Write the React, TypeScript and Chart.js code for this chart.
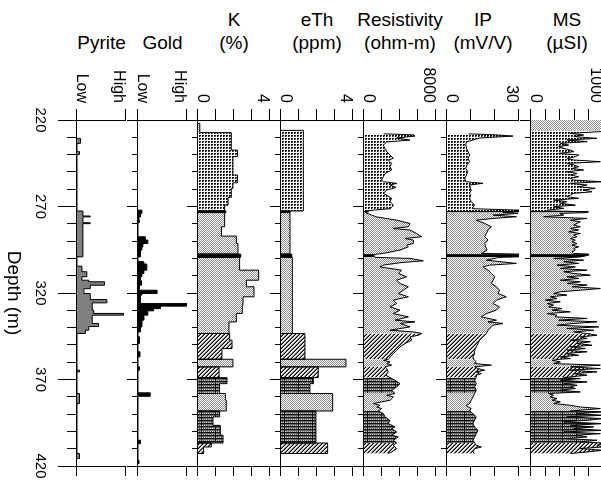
import React, { useEffect, useRef } from 'react';
import { Chart, registerables } from 'chart.js';

Chart.register(...registerables);

const FONT = '"Liberation Sans", Arial, Helvetica, sans-serif';

// ---------------- data ----------------
const depthMin = 220;
const depthMax = 420;
const depthStep = 10;
const depthLabelEvery = 50;
const depthTitle = 'Depth (m)';

// lithology zones (top depth of each zone and its fill kind)
const zoneTops = [220, 226, 272.6, 273.5, 297.5, 299.4, 343.4, 358.3, 362.7, 368.9, 378.1, 388.2, 406.7];
const zoneKinds = ['cross', 'dots', 'black', 'cross', 'black', 'cross', 'diag', 'cross', 'diag', 'grid', 'cross', 'grid', 'diag'];

const pyriteTicks = ['Low', 'High'];
const goldTicks = ['Low', 'High'];
const kTicks = ['0', '4'];
const ethTicks = ['0', '4'];
const resTicks = ['0', '8000'];
const ipTicks = ['0', '30'];
const msTicks = ['0', '1000'];

const pyriteDepth = [230.6, 230.6, 233.5, 238.3, 239.9, 272.6, 275.5, 276.0, 279.4, 279.9, 299.1, 304.5, 307.7, 310.6, 312.6, 313.5, 315.5, 317.5, 318.4, 320.3, 323.8, 325.7, 329.9, 331.8, 332.8, 337.6, 339.4, 341.5, 343.4, 364.6, 365.6, 378.1, 383.9, 412.8, 415.7];
const pyriteValue = [0, 0.07, 0, 0.05, 0, 0.12, 0.27, 0.12, 0.27, 0.12, 0, 0.1, 0.2, 0.1, 0.24, 0.56, 0.27, 0.14, 0.14, 0.27, 0.61, 0.31, 0.34, 0.95, 0.31, 0.44, 0.24, 0.17, 0, 0.05, 0, 0.05, 0, 0.05, 0];

const goldDepth = [272.1, 272.1, 274.0, 276.0, 278.1, 279.2, 287.5, 289.4, 291.4, 293.3, 295.2, 299.1, 301.9, 303.3, 306.8, 308.7, 310.6, 312.9, 315.5, 318.4, 320.3, 321.2, 326.1, 327.6, 329.0, 330.3, 332.8, 335.7, 339.6, 342.5, 345.3, 349.2, 354.0, 356.9, 362.7, 364.6, 377.7, 379.7, 405.1, 407.1, 416.7, 418.6];
const goldValue = [0, 0.08, 0.05, 0.02, 0.03, 0, 0.15, 0.2, 0.1, 0.08, 0.05, 0, 0.12, 0.18, 0.12, 0.08, 0.05, 0.07, 0.03, 0.39, 0.08, 0.05, 1.0, 0.46, 0.32, 0.2, 0.12, 0.08, 0.05, 0, 0.03, 0, 0.04, 0, 0.03, 0, 0.25, 0, 0.05, 0, 0.02, 0];

const kDepth = [222, 222, 227.3, 237.4, 241.2, 251.8, 256.3, 259.5, 264.7, 269.2, 272.6, 272.6, 273.5, 273.5, 281.7, 287.1, 291.3, 297.5, 297.5, 299.4, 299.4, 306.8, 312.6, 316.4, 322.2, 327.0, 331.8, 336.7, 343.4, 343.4, 347.3, 352.1, 358.3, 358.3, 362.7, 362.7, 368.9, 368.9, 372.4, 378.1, 378.1, 382.0, 388.2, 388.2, 391.6, 396.5, 402.2, 406.7, 406.7, 409.0, 412.8];
const kValue = [0, 0.1, 1.85, 2.19, 1.94, 2.19, 1.94, 1.85, 1.67, 1.48, 0, 1.55, 0, 1.48, 1.3, 2.13, 2.22, 0, 2.37, 0, 2.31, 3.37, 2.69, 3.11, 2.5, 2.46, 2.13, 1.72, 0, 1.76, 1.89, 1.33, 0, 1.94, 0, 1.17, 0, 1.61, 1.2, 0, 1.52, 1.57, 0, 1.2, 0.83, 1.24, 1.39, 0, 0.74, 0.31, 0];

const ethDepth = [226, 226, 272.6, 272.6, 273.5, 273.5, 297.5, 297.5, 299.4, 299.4, 343.4, 343.4, 358.3, 358.3, 362.7, 362.7, 368.9, 368.9, 372.4, 378.1, 378.1, 388.2, 388.2, 406.7, 406.7, 412.8];
const ethValue = [0, 1.24, 0, 0.5, 0, 0.5, 0, 0.6, 0, 0.63, 0, 1.33, 0, 3.61, 0, 2.07, 0, 1.8, 1.61, 0, 2.87, 0, 1.94, 0, 2.59, 0];

const resDepth = [
  228.0, 228.6, 229.3, 230.4, 231.6, 232.7, 234.5, 236.4, 238.3, 240.2,
  242.2, 243.1, 245.1, 247.0, 248.9, 250.9, 252.8, 254.7, 255.7, 256.6,
  257.6, 259.0, 260.5, 262.4, 263.4, 265.3, 267.2, 269.2, 270.5, 271.3,
  272.0, 272.6, 273.0, 273.5, 275.0, 276.0, 277.9, 279.8, 281.7, 282.7,
  283.6, 285.6, 287.5, 288.5, 289.4, 291.4, 292.3, 293.3, 295.2, 297.1,
  297.5, 298.1, 299.4, 300.0, 301.4, 302.5, 303.9, 304.9, 306.8, 308.7,
  310.6, 312.6, 314.5, 316.4, 318.4, 320.3, 322.2, 324.1, 326.1, 328.0,
  329.9, 331.9, 333.8, 335.7, 336.7, 337.6, 339.6, 341.5, 342.5, 343.4,
  344.4, 345.4, 347.3, 349.2, 351.1, 353.1, 355.0, 356.9, 358.3, 358.9,
  359.8, 360.8, 361.7, 362.7, 363.7, 365.6, 367.5, 368.9, 370.4, 372.4,
  374.3, 376.2, 378.1, 379.1, 380.1, 382.0, 383.9, 384.9, 385.9, 386.8,
  388.2, 389.7, 391.6, 393.6, 395.5, 397.4, 398.4, 400.3, 402.2, 403.2,
  405.1, 406.7, 408.0, 410.0, 411.9, 412.8];
const resValue = [
  2200, 5500, 5670, 3630, 5100, 2520, 2150, 2330, 2520, 2890,
  3260, 2700, 3070, 2890, 3070, 2330, 2150, 1960, 2150, 3630,
  2890, 3560, 2520, 2150, 2520, 3070, 2890, 3260, 3070, 2900,
  1200, 300, 500, 150, 850, 1400, 3630, 5110, 4930, 3260,
  5110, 5850, 6410, 4560, 5480, 5480, 4740, 4930, 4000, 2150,
  1500, 1040, 1200, 5110, 6590, 4000, 2150, 1780, 4190, 3810,
  4740, 3630, 4000, 4930, 4370, 3810, 4930, 3260, 3630, 2890,
  4000, 3260, 4930, 3440, 5670, 4000, 5110, 2890, 5480, 6410,
  6040, 5110, 5300, 4560, 4000, 3630, 3260, 2890, 2700, 2150,
  2890, 2520, 3070, 2330, 2520, 2700, 2440, 2890, 3440, 4000,
  3630, 3070, 3440, 2520, 3260, 2890, 1040, 1780, 1410, 1960,
  1590, 2150, 2330, 2890, 2700, 3440, 3070, 3630, 3070, 3810,
  3260, 3630, 3260, 3630, 3070, 2700];

const ipDepth = [
  228.0, 228.6, 229.3, 230.4, 231.0, 232.7, 234.5, 236.4, 238.3, 240.2,
  242.2, 244.1, 246.0, 248.0, 249.9, 251.8, 253.7, 255.7, 256.6, 257.6,
  259.0, 260.5, 262.4, 263.4, 265.3, 267.2, 269.2, 270.5, 271.3, 272.1,
  272.6, 273.0, 273.5, 274.0, 275.0, 275.9, 276.9, 277.9, 279.8, 281.7,
  283.6, 285.6, 287.5, 289.4, 291.4, 293.3, 295.2, 297.1, 297.5, 298.1,
  299.1, 299.4, 301.0, 302.9, 303.9, 304.9, 306.8, 308.7, 310.6, 312.6,
  314.5, 316.4, 318.4, 320.3, 322.2, 324.1, 326.1, 328.0, 329.9, 331.9,
  333.8, 335.7, 336.7, 337.6, 338.6, 339.6, 341.5, 343.4, 345.4, 347.3,
  349.2, 351.1, 353.1, 355.0, 356.9, 358.3, 358.9, 359.8, 360.8, 361.7,
  362.7, 363.7, 364.6, 365.6, 366.6, 367.5, 368.9, 370.4, 372.4, 374.3,
  376.2, 378.1, 380.1, 382.0, 383.9, 384.9, 385.9, 386.8, 388.2, 389.7,
  391.6, 393.6, 395.5, 397.4, 399.4, 401.3, 403.2, 405.1, 406.7, 408.0,
  409.0, 410.0, 411.9, 412.8];
const ipValue = [
  9.0, 20.6, 27.5, 13.6, 12.2, 8.1, 7.8, 8.1, 8.8, 9.4,
  8.8, 9.4, 8.3, 7.8, 8.6, 8.1, 7.4, 7.8, 15.0, 9.4,
  9.7, 10.1, 9.4, 9.9, 9.4, 10.1, 11.5, 10.8, 11.0, 30.0,
  28.0, 30.0, 23.3, 29.6, 19.2, 28.9, 19.2, 12.2, 15.7, 18.5,
  17.1, 16.4, 15.7, 17.1, 15.7, 16.1, 16.7, 14.3, 30.0, 30.0,
  30.0, 21.9, 16.4, 28.9, 17.8, 15.0, 17.1, 18.5, 19.9, 19.2,
  18.5, 20.6, 21.9, 21.3, 24.7, 20.6, 19.2, 21.9, 20.6, 16.4,
  14.3, 20.6, 17.1, 23.3, 19.2, 18.5, 17.1, 16.4, 15.0, 13.6,
  12.9, 12.2, 11.5, 11.5, 10.8, 11.2, 11.5, 12.2, 11.5, 18.5,
  11.5, 12.9, 15.7, 12.2, 14.3, 12.2, 12.2, 11.5, 12.2, 11.5,
  12.2, 11.5, 10.8, 10.1, 9.4, 8.1, 8.8, 10.1, 9.4, 10.8,
  12.2, 11.5, 10.8, 11.5, 12.9, 12.2, 11.5, 10.8, 11.5, 12.2,
  14.3, 11.5, 10.8, 11.5];

const msDepth = [
  220.0, 225.5, 226.0, 226.7, 227.7, 228.7, 229.6, 230.6, 231.6, 232.5,
  233.5, 234.5, 235.4, 236.4, 237.4, 238.3, 239.3, 240.2, 241.2, 242.2,
  243.1, 244.1, 245.1, 246.0, 247.0, 248.0, 248.9, 249.9, 250.9, 251.8,
  252.8, 253.7, 254.7, 255.7, 256.6, 257.6, 258.6, 259.5, 260.5, 261.5,
  262.4, 263.4, 264.3, 265.3, 266.3, 267.2, 268.2, 269.2, 270.1, 271.1,
  272.1, 272.6, 273.0, 273.5, 274.0, 275.0, 275.9, 276.9, 277.9, 278.8,
  279.8, 280.7, 281.7, 282.7, 283.6, 284.6, 285.6, 286.5, 287.5, 288.5,
  289.4, 290.4, 291.4, 292.3, 293.3, 294.2, 295.2, 296.2, 297.1, 297.5,
  298.1, 299.1, 299.4, 300.0, 301.0, 301.9, 302.9, 303.9, 304.9, 305.8,
  306.8, 307.7, 308.7, 309.7, 310.6, 311.6, 312.6, 313.5, 314.5, 315.4,
  316.4, 317.4, 318.4, 319.3, 320.3, 321.2, 322.2, 323.2, 324.1, 325.1,
  326.1, 327.0, 328.0, 329.0, 329.9, 330.9, 331.9, 332.8, 333.8, 334.7,
  335.7, 336.7, 337.6, 338.6, 339.6, 340.5, 341.5, 342.5, 343.4, 344.4,
  345.4, 346.3, 347.3, 348.2, 349.2, 350.2, 351.1, 352.1, 353.1, 354.0,
  355.0, 356.0, 356.9, 357.9, 358.3, 358.9, 359.8, 360.8, 361.7, 362.7,
  363.7, 364.6, 365.6, 366.6, 367.5, 368.9, 369.5, 370.4, 371.4, 372.4,
  373.3, 374.3, 375.2, 376.2, 377.2, 378.1, 379.1, 380.1, 381.0, 382.0,
  382.9, 383.9, 384.9, 385.9, 386.8, 388.2, 388.7, 389.7, 390.7, 391.6,
  392.6, 393.6, 394.5, 395.5, 396.5, 397.4, 398.4, 399.4, 400.3, 401.3,
  402.2, 403.2, 404.2, 405.1, 406.1, 406.7, 407.1, 408.0, 409.0, 409.9,
  410.9, 411.9, 412.8];
const msValue = [
  1200, 1200, 1000, 980, 546, 731, 593, 917, 500, 779,
  407, 523, 384, 454, 546, 593, 384, 662, 616, 500,
  593, 963, 500, 593, 662, 569, 731, 500, 639, 546,
  662, 546, 593, 986, 546, 779, 662, 893, 731, 847,
  593, 546, 500, 662, 315, 500, 407, 616, 315, 454,
  222, 300, 800, 778, 400, 454, 176, 778, 546, 685,
  639, 593, 685, 546, 662, 523, 685, 593, 639, 546,
  616, 569, 639, 569, 662, 593, 616, 569, 593, 801,
  801, 700, 593, 315, 731, 454, 662, 361, 616, 407,
  779, 454, 593, 824, 500, 662, 407, 685, 500, 779,
  569, 963, 685, 407, 315, 500, 268, 361, 199, 407,
  222, 315, 245, 430, 292, 546, 222, 361, 338, 779,
  384, 917, 593, 361, 940, 500, 870, 593, 779, 917,
  685, 779, 546, 824, 639, 847, 546, 754, 500, 779,
  477, 662, 407, 546, 400, 292, 407, 315, 963, 546,
  963, 523, 917, 593, 779, 454, 685, 407, 779, 454,
  639, 546, 616, 407, 685, 245, 315, 268, 361, 292,
  407, 315, 546, 685, 963, 546, 1000, 639, 1000, 500,
  1000, 779, 454, 1000, 546, 870, 593, 1000, 454, 963,
  639, 779, 500, 917, 685, 1000, 1000, 917, 1000, 685,
  1000, 779, 546];

// ---------------- panel specs ----------------
type Spec = {
  name: string; title: string[]; left: number; width: number;
  min: number; max: number; step: number; tickLabels: string[];
  depth: number[]; value: number[]; stepped: boolean; fill: string; showDepth: boolean;
};

const specs: Spec[] = [
  { name: 'pyrite', title: ['Pyrite'], left: 77, width: 49, min: 0, max: 1, step: 1, tickLabels: pyriteTicks, depth: pyriteDepth, value: pyriteValue, stepped: true, fill: '#808080', showDepth: true },
  { name: 'gold', title: ['Gold'], left: 138, width: 49, min: 0, max: 1, step: 1, tickLabels: goldTicks, depth: goldDepth, value: goldValue, stepped: true, fill: '#000000', showDepth: false },
  { name: 'k', title: ['K', '(%)'], left: 198, width: 72, min: 0, max: 4, step: 1, tickLabels: kTicks, depth: kDepth, value: kValue, stepped: true, fill: 'zones', showDepth: false },
  { name: 'eth', title: ['eTh', '(ppm)'], left: 281, width: 72, min: 0, max: 4, step: 1, tickLabels: ethTicks, depth: ethDepth, value: ethValue, stepped: true, fill: 'zones', showDepth: false },
  { name: 'res', title: ['Resistivity', '(ohm-m)'], left: 364, width: 72, min: 0, max: 8000, step: 2000, tickLabels: resTicks, depth: resDepth, value: resValue, stepped: false, fill: 'zones', showDepth: false },
  { name: 'ip', title: ['IP', '(mV/V)'], left: 447, width: 72, min: 0, max: 30, step: 10, tickLabels: ipTicks, depth: ipDepth, value: ipValue, stepped: false, fill: 'zones', showDepth: false },
  { name: 'ms', title: ['MS', '(µSI)'], left: 531, width: 72, min: 0, max: 1000, step: 200, tickLabels: msTicks, depth: msDepth, value: msValue, stepped: false, fill: 'zones', showDepth: false },
];

// ---------------- helpers ----------------
function zoneIndex(d: number) {
  let k = 0;
  for (let i = 0; i < zoneTops.length; i++) if (d >= zoneTops[i]) k = i;
  return k;
}

function makeTile(w: number, h: number, bg: string, paint: (x: number, y: number) => string | null) {
  const c = document.createElement('canvas');
  c.width = w; c.height = h;
  const g = c.getContext('2d')!;
  g.fillStyle = bg; g.fillRect(0, 0, w, h);
  for (let y = 0; y < h; y++) for (let x = 0; x < w; x++) {
    const col = paint(x, y);
    if (col) { g.fillStyle = col; g.fillRect(x, y, 1, 1); }
  }
  return c;
}

// canvases are drawn in landscape and turned 90deg clockwise, so tiles are turned back
function landscapeTile(t: HTMLCanvasElement) {
  const c = document.createElement('canvas');
  c.width = t.height; c.height = t.width;
  const g = c.getContext('2d')!;
  g.translate(0, t.width);
  g.rotate(-Math.PI / 2);
  g.drawImage(t, 0, 0);
  return c;
}

function makePatterns(ctx: CanvasRenderingContext2D): Record<string, CanvasPattern | string> {
  const dots = makeTile(3, 3, '#ffffff', (x, y) => (x < 2 && y < 2 ? (x + y === 2 ? '#888' : '#111') : null));
  const cross = makeTile(2, 2, '#ffffff', (x, y) => ((x + y) % 2 === 0 ? '#8c8c8c' : null));
  const diag = makeTile(4, 4, '#e6e6e6', (x, y) => ((x + y) % 4 === 3 ? '#000' : (x + y) % 4 === 2 ? '#777' : null));
  const grid = makeTile(14, 3, '#6a6a6a', (x, y) => (y === 0 || x === 0 ? '#111' : (y === 2 && x % 2 === 1 ? '#c8c8c8' : null)));
  const p = (t: HTMLCanvasElement) => ctx.createPattern(landscapeTile(t), 'repeat') as CanvasPattern;
  return { dots: p(dots), cross: p(cross), diag: p(diag), grid: p(grid), black: '#000000' };
}

const innerLabels = {
  id: 'innerLabels',
  beforeDraw(chart: any) {
    const s = chart.scales.y;
    if (!s || !s.getLabelItems) return;
    const items = s.getLabelItems();
    const labels: string[] = chart.options.plugins.innerLabels.labels;
    items.forEach((it: any) => {
      if (it.label === labels[0]) it.options.textBaseline = 'alphabetic';
      else if (it.label === labels[1]) it.options.textBaseline = 'top';
    });
  },
};

function LogPanel({ spec }: { spec: Spec }) {
  const ref = useRef<HTMLCanvasElement>(null);
  const bottomH = spec.showDepth ? spec.left : 11;
  const H = bottomH + spec.width + 1;
  const majorLen = spec.showDepth ? 19 : 11;
  const minorLen = spec.showDepth ? 9 : 5;

  useEffect(() => {
    const canvas = ref.current!;
    const pats = makePatterns(canvas.getContext('2d')!);
    const data = spec.depth.map((d, i) => ({ x: d, y: spec.value[i] }));
    const segMid = (c: any) => (spec.depth[c.p0DataIndex] + spec.depth[c.p1DataIndex]) / 2;
    const zoned = spec.fill === 'zones';

    const chart = new Chart(canvas, {
      type: 'line',
      data: {
        datasets: [{
          data,
          borderColor: '#000',
          borderWidth: 1,
          pointRadius: 0,
          tension: 0,
          stepped: spec.stepped ? 'before' : false,
          fill: 'origin',
          backgroundColor: zoned ? 'rgba(0,0,0,0)' : spec.fill,
          segment: zoned ? {
            backgroundColor: (c: any) => pats[zoneKinds[zoneIndex(segMid(c))]],
            borderDashOffset: (c: any) => zoneIndex(segMid(c)) * 0.001,
          } : undefined,
        } as any],
      },
      options: {
        responsive: false,
        animation: false,
        events: [],
        layout: { padding: { top: 1, left: 0, right: 0, bottom: 0 }, autoPadding: false } as any,
        plugins: {
          legend: { display: false },
          tooltip: { enabled: false },
          innerLabels: { labels: spec.tickLabels },
        } as any,
        scales: {
          x: {
            type: 'linear',
            position: 'bottom',
            min: depthMin,
            max: depthMax,
            ticks: {
              display: spec.showDepth,
              stepSize: depthStep,
              autoSkip: false,
              maxRotation: 0,
              minRotation: 0,
              padding: 9,
              color: '#000',
              font: { family: FONT, size: 15 },
              callback: (v: any) => ((Number(v) - depthMin) % depthLabelEvery === 0 ? String(v) : ''),
            },
            grid: {
              drawOnChartArea: false,
              tickLength: majorLen,
              tickColor: '#000',
              tickWidth: 1,
              tickBorderDash: (c: any) => (((c.tick?.value ?? 0) - depthMin) % depthLabelEvery === 0 ? [] : [minorLen, 100]),
            },
            border: { display: true, color: '#000', width: 1 },
            title: {
              display: spec.showDepth,
              text: depthTitle,
              color: '#000',
              font: { family: FONT, size: 19 },
              padding: { top: 0, bottom: 2 },
            },
            afterFit: (s: any) => { s.height = bottomH; s.paddingLeft = 0; s.paddingRight = 0; },
          },
          y: {
            type: 'linear',
            position: 'left',
            min: spec.min,
            max: spec.max,
            ticks: {
              stepSize: spec.step,
              autoSkip: false,
              padding: 6,
              color: '#000',
              font: { family: FONT, size: 16 },
              callback: (v: any) => (Number(v) === spec.min ? spec.tickLabels[0] : Number(v) === spec.max ? spec.tickLabels[1] : ''),
            },
            grid: { drawOnChartArea: false, tickLength: 11, tickColor: '#000', tickWidth: 1 },
            border: { display: true, color: '#000', width: 1 },
            afterFit: (s: any) => { s.width = 120; s.paddingTop = 0; s.paddingBottom = 0; },
          },
          y2: {
            type: 'linear',
            position: 'right',
            min: spec.min,
            max: spec.max,
            ticks: { stepSize: spec.step, display: false },
            grid: { drawOnChartArea: false, tickLength: 10, tickColor: '#000', tickWidth: 1 },
            border: { display: true, color: '#000', width: 1 },
            afterFit: (s: any) => { s.width = 14; s.paddingTop = 0; s.paddingBottom = 0; },
          },
        } as any,
      },
      plugins: [innerLabels as any],
    });
    return () => chart.destroy();
  }, []);

  return (
    <canvas
      ref={ref}
      width={480}
      height={H}
      style={{
        position: 'absolute',
        left: spec.left - bottomH,
        top: 0,
        width: 480,
        height: H,
        transformOrigin: '0 0',
        transform: `translate(${H}px, 0px) rotate(90deg)`,
      }}
    />
  );
}

export default function App() {
  return (
    <div style={{ position: 'absolute', left: 0, top: 0, width: 601, height: 480, overflow: 'hidden', background: '#fff' }}>
      {specs.map((s) => (
        <div
          key={'h-' + s.name}
          style={{
            position: 'absolute',
            left: s.left + s.width / 2 - 60,
            width: 120,
            top: s.title.length === 1 ? 31 : 8,
            textAlign: 'center',
            fontFamily: FONT,
            fontSize: 19,
            lineHeight: '23px',
            color: '#000',
            whiteSpace: 'nowrap',
          }}
        >
          {s.title.map((t, i) => <div key={i}>{t}</div>)}
        </div>
      ))}
      {specs.map((s) => <LogPanel key={s.name} spec={s} />)}
    </div>
  );
}
